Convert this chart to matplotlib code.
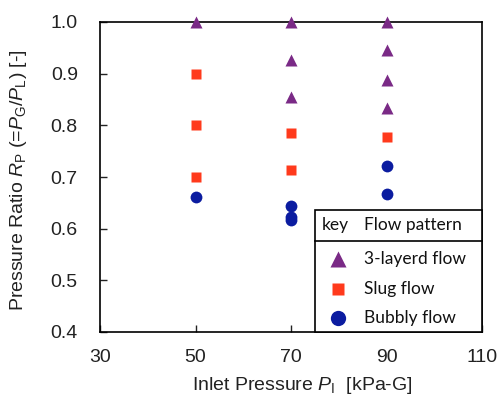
import numpy as np
import matplotlib
matplotlib.use('Agg')
import matplotlib.pyplot as plt

plt.rcParams['font.family'] = ['Liberation Sans', 'DejaVu Sans']
plt.rcParams['mathtext.fontset'] = 'custom'
plt.rcParams['mathtext.rm'] = 'Liberation Sans'
plt.rcParams['mathtext.it'] = 'Liberation Sans:italic'

# data
layered_x = [50, 70, 70, 70, 90, 90, 90, 90]
layered_y = [1.0, 1.0, 0.927, 0.854, 1.0, 0.945, 0.888, 0.833]
slug_x = [50, 50, 50, 70, 70, 90]
slug_y = [0.9, 0.8, 0.7, 0.786, 0.714, 0.778]
bubbly_x = [50, 70, 70, 70, 90, 90]
bubbly_y = [0.661, 0.643, 0.623, 0.617, 0.722, 0.667]

legend_labels = ['3-layerd flow', 'Slug flow', 'Bubbly flow']
xticks = [30, 50, 70, 90, 110]
yticks = [0.4, 0.5, 0.6, 0.7, 0.8, 0.9, 1.0]

c_tri = '#7a2a86'
c_sq = '#ff3a1c'
c_ci = '#0b1ca0'

fig = plt.figure(figsize=(4.99, 3.98), dpi=100)
ax = fig.add_axes([100/499, 1 - 332/398, 382/499, 310/398])

ax.plot(layered_x, layered_y, '^', color=c_tri, ms=8.5, mec='none', clip_on=False, zorder=3)
ax.plot(slug_x, slug_y, 's', color=c_sq, ms=7.5, mec='none', clip_on=False, zorder=3)
ax.plot(bubbly_x, bubbly_y, 'o', color=c_ci, ms=8.5, mec='none', clip_on=False, zorder=3)

ax.set_xlim(30, 110)
ax.set_ylim(0.4, 1.0)
ax.set_xticks(xticks)
ax.set_yticks(yticks)
ax.set_yticklabels(['%.1f' % v for v in yticks])
ax.tick_params(direction='in', length=5, width=1, labelsize=14, colors='#222222', top=False, right=False)
ax.tick_params(axis='x', pad=12)
ax.tick_params(axis='y', pad=16)
for s in ax.spines.values():
    s.set_linewidth(1.2)
    s.set_color('black')

fig.text(302/499, 1 - 386/398, r'Inlet Pressure $P_\mathrm{I}$  [kPa-G]', fontsize=14,
         color='#222222', ha='center', va='center')
fig.text(19/499, 1 - 180/398, r'Pressure Ratio $R_\mathrm{P}$ (=$P_\mathrm{G}$/$P_\mathrm{L}$) [-]',
         fontsize=14, color='#222222', ha='center', va='center', rotation=90)

# table style key box in the lower right corner
tr = fig.transFigure
def fx(px):
    return px / 499
def fy(py):
    return 1 - py / 398

box = plt.Rectangle((fx(315), fy(332)), fx(482) - fx(315), fy(210) - fy(332), transform=tr,
                    facecolor='white', edgecolor='black', lw=1.2, zorder=5)
fig.patches.append(box)
fig.add_artist(plt.Line2D([fx(315), fx(482)], [fy(241), fy(241)], transform=tr, color='black', lw=1.2, zorder=6))

kfont = dict(family=['Lato', 'DejaVu Sans'], fontsize=12.5, va='center', color='#111111', zorder=7)
fig.text(fx(322), fy(225), 'key', **kfont)
fig.text(fx(364), fy(225), 'Flow pattern', **kfont)
markers = [('^', c_tri, 11), ('s', c_sq, 9), ('o', c_ci, 11)]
rows = [259, 289, 318]
for (m, c, s), lab, ry in zip(markers, legend_labels, rows):
    fig.add_artist(plt.Line2D([fx(338)], [fy(ry)], transform=tr, marker=m, color=c, ms=s, mec='none', lw=0, zorder=7))
    fig.text(fx(364), fy(ry), lab, **kfont)

fig.savefig('out.png', dpi=100)
